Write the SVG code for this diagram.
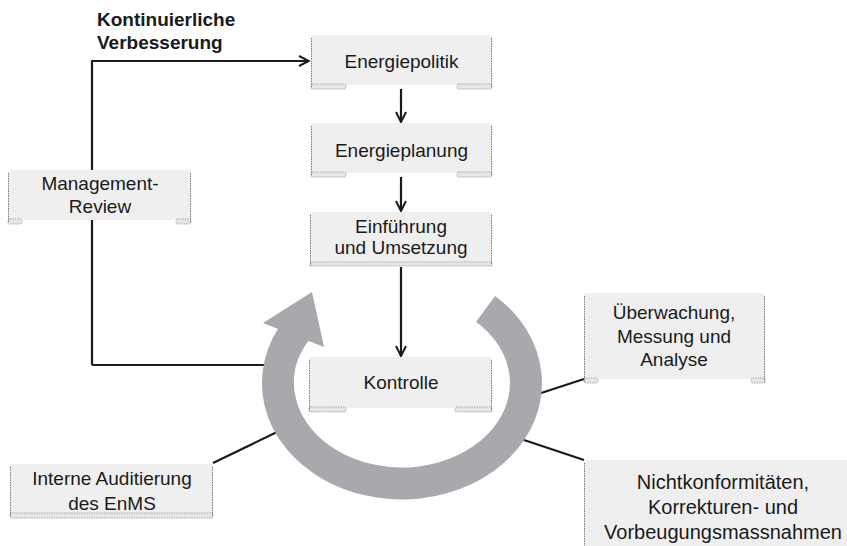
<svg xmlns="http://www.w3.org/2000/svg" width="847" height="546" viewBox="0 0 847 546">
<style>
  .bg { fill: #efefef; }
  .side { fill: none; stroke: #7a7a7a; stroke-width: 1; stroke-dasharray: 1.5 1; }
  .foot { fill: #e6e6e6; stroke: #9a9a9a; stroke-width: 0.8; stroke-dasharray: 1.5 1; }
  .lbl { font-family: "Liberation Sans", Arial, sans-serif; font-size: 19px; fill: #1a1a1a; text-anchor: middle; }
  .title { font-family: "Liberation Sans", Arial, sans-serif; font-size: 19px; font-weight: bold; fill: #1a1a1a; }
  .con { fill: none; stroke: #1a1a1a; stroke-width: 2.2; }
  .ring { fill: none; stroke: #a8a9ac; stroke-width: 32; stroke-linecap: butt; }
</style>
<defs>
  <marker id="arr" viewBox="0 0 12 12" refX="11" refY="6" markerWidth="12" markerHeight="12" markerUnits="userSpaceOnUse" orient="auto">
    <path d="M1,1 L11,6 L1,11" fill="none" stroke="#1a1a1a" stroke-width="2"/>
  </marker>
</defs>
<rect width="847" height="546" fill="#ffffff"/>

<text class="title" x="97" y="26">Kontinuierliche</text>
<text class="title" x="97" y="49">Verbesserung</text>

<g id="connectors">
  <path class="con" d="M92,365 L92,61 L309,61" marker-end="url(#arr)"/>
  <path class="con" d="M92,365 L264,365"/>
  <path class="con" d="M401,89 L401,122" marker-end="url(#arr)"/>
  <path class="con" d="M401,177 L401,211" marker-end="url(#arr)"/>
  <path class="con" d="M401,267 L401,356" marker-end="url(#arr)"/>
  <path class="con" d="M538,394 L584,379"/>
  <path class="con" d="M521,439 L584,460"/>
  <path class="con" d="M277,432 L213,463"/>
</g>

<g id="cycle">
  <path class="ring" d="M485.6,308.8 A124,100.5 0 1 1 296.8,329.7"/>
  <polygon points="312,292 263,323 324,347" fill="#a8a9ac"/>
</g>

<g id="energiepolitik">
  <rect class="bg" x="311" y="35" width="181" height="50" rx="3"/>
  <rect class="foot" x="311" y="84" width="35" height="5" rx="1.5"/>
  <rect class="foot" x="457" y="84" width="35" height="5" rx="1.5"/>
  <path class="side" d="M311.5,38 V88 M491.5,38 V88"/>
  <text class="lbl" x="401.5" y="68">Energiepolitik</text>
</g>

<g id="energieplanung">
  <rect class="bg" x="311" y="123" width="181" height="50" rx="3"/>
  <rect class="foot" x="311" y="172" width="35" height="5" rx="1.5"/>
  <rect class="foot" x="457" y="172" width="35" height="5" rx="1.5"/>
  <path class="side" d="M311.5,126 V176 M491.5,126 V176"/>
  <text class="lbl" x="401.5" y="157">Energieplanung</text>
</g>

<g id="einfuehrung">
  <rect class="bg" x="310" y="212" width="182" height="51" rx="3"/>
  <rect class="foot" x="310" y="262" width="182" height="4" rx="1.5"/>
  <path class="side" d="M310.5,215 V266 M491.5,215 V266"/>
  <text class="lbl" x="401" y="233">Einführung</text>
  <text class="lbl" x="401" y="254">und Umsetzung</text>
</g>

<g id="kontrolle">
  <rect class="bg" x="309" y="357" width="183" height="51" rx="3"/>
  <rect class="foot" x="309" y="407" width="37" height="5" rx="1.5"/>
  <rect class="foot" x="455" y="407" width="37" height="5" rx="1.5"/>
  <path class="side" d="M309.5,360 V411 M491.5,360 V411"/>
  <text class="lbl" x="401" y="389">Kontrolle</text>
</g>

<g id="management-review">
  <rect class="bg" x="8" y="170" width="183" height="50" rx="3"/>
  <rect class="foot" x="8" y="219" width="14" height="5" rx="1.5"/>
  <rect class="foot" x="176" y="219" width="15" height="5" rx="1.5"/>
  <path class="side" d="M8.5,173 V223 M190.5,173 V223"/>
  <text class="lbl" x="100" y="190">Management-</text>
  <text class="lbl" x="100" y="213">Review</text>
</g>

<g id="ueberwachung">
  <rect class="bg" x="584" y="293" width="181" height="86" rx="3"/>
  <rect class="foot" x="584" y="378" width="14" height="5" rx="1.5"/>
  <rect class="foot" x="751" y="378" width="14" height="5" rx="1.5"/>
  <path class="side" d="M584.5,296 V382 M764.5,296 V382"/>
  <text class="lbl" x="674" y="319">Überwachung,</text>
  <text class="lbl" x="674" y="343">Messung und</text>
  <text class="lbl" x="674" y="366">Analyse</text>
</g>

<g id="nichtkonformitaeten">
  <rect class="bg" x="584" y="460" width="280" height="100" rx="3"/>
  <path class="side" d="M584.5,463 V546"/>
  <text class="lbl" x="723" y="489" style="font-size:20px">Nichtkonformitäten,</text>
  <text class="lbl" x="723" y="514" style="font-size:20px">Korrekturen- und</text>
  <text class="lbl" x="723" y="539" style="font-size:20px">Vorbeugungsmassnahmen</text>
</g>

<g id="interne-auditierung">
  <rect class="bg" x="10" y="464" width="203" height="50" rx="3"/>
  <rect class="foot" x="10" y="513" width="203" height="5" rx="1.5"/>
  <path class="side" d="M10.5,467 V517 M212.5,467 V517"/>
  <text class="lbl" x="112" y="485">Interne Auditierung</text>
  <text class="lbl" x="112" y="510">des EnMS</text>
</g>
</svg>
